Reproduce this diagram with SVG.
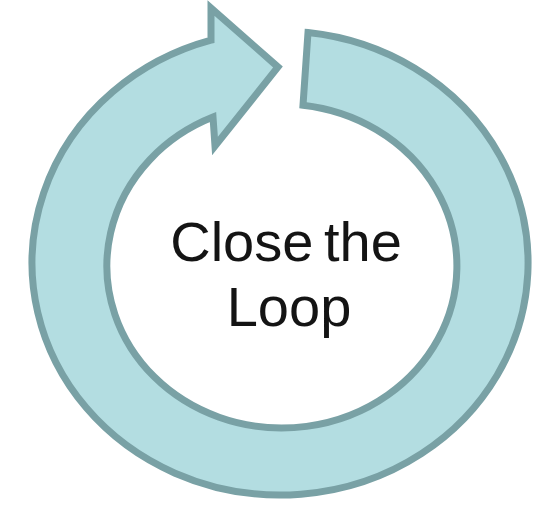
<svg xmlns="http://www.w3.org/2000/svg" width="539" height="507" viewBox="0 0 539 507">
  <style>
    .ring { fill: #b3dde1; stroke: #79a1a5; stroke-width: 7; stroke-linejoin: miter; }
    .label { font-family: "Liberation Sans", Arial, sans-serif; font-size: 56px; fill: #141414; text-anchor: middle; }
  </style>
  <rect width="539" height="507" fill="#ffffff"/>
  <g id="loop-arrow">
    <path class="ring" d="M 308 32.5 A 248 232 0 1 1 211 40.2 L 211 8 L 278 67 L 215 146 L 213 117.1 A 175 162 0 1 0 303 105.2 Z"/>
  </g>
  <g id="label">
    <text class="label" x="286" y="261" word-spacing="-5">Close the</text>
    <text class="label" x="289" y="326">Loop</text>
  </g>
</svg>
